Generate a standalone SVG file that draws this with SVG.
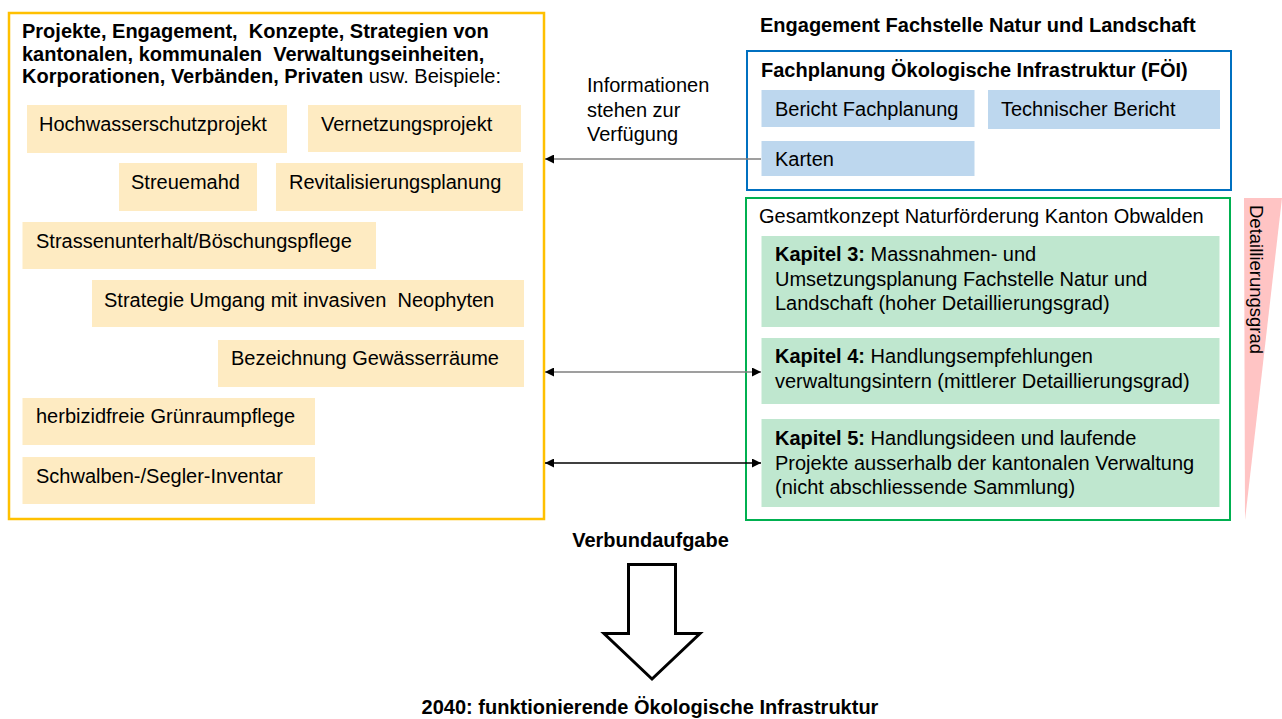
<svg xmlns="http://www.w3.org/2000/svg" width="1282" height="719" viewBox="0 0 1282 719">
<style>
text{font-family:"Liberation Sans",Arial,sans-serif;font-size:20px;fill:#000}
.b{font-weight:bold}
.or{fill:#FEEBC2}
.bl{fill:#BDD7EE}
.gr{fill:#BFE7CF}
.ln{fill:none;stroke-width:1.5}
</style>
<defs>
<marker id="ah" viewBox="0 0 10 10" refX="10" refY="5" markerWidth="9" markerHeight="9" markerUnits="userSpaceOnUse" orient="auto-start-reverse">
<path d="M0,0 L10,5 L0,10 Z" fill="#000"/>
</marker>
</defs>
<rect width="1282" height="719" fill="#fff"/>

<g id="akteure">
<rect x="9" y="13" width="535" height="506" fill="#fff" stroke="#FFC000" stroke-width="2.5"/>
<text class="b" x="22" y="38" xml:space="preserve">Projekte, Engagement,  Konzepte, Strategien von</text>
<text class="b" x="22" y="60.5" xml:space="preserve">kantonalen, kommunalen  Verwaltungseinheiten,</text>
<text x="22" y="83"><tspan class="b">Korporationen, Verbänden, Privaten</tspan> usw. Beispiele:</text>
</g>
<g id="hochwasser"><rect class="or" x="27" y="105" width="260" height="48"/><text x="39" y="131">Hochwasserschutzprojekt</text></g>
<g id="vernetzung"><rect class="or" x="308" y="105" width="213" height="47"/><text x="321" y="131">Vernetzungsprojekt</text></g>
<g id="streuemahd"><rect class="or" x="119" y="163" width="138" height="48"/><text x="131" y="189">Streuemahd</text></g>
<g id="revitalisierung"><rect class="or" x="276" y="163" width="247" height="48"/><text x="289" y="189">Revitalisierungsplanung</text></g>
<g id="strassen"><rect class="or" x="22.5" y="222" width="353.5" height="47"/><text x="36" y="248">Strassenunterhalt/Böschungspflege</text></g>
<g id="neophyten"><rect class="or" x="92" y="280" width="432" height="47"/><text x="104" y="307" xml:space="preserve">Strategie Umgang mit invasiven  Neophyten</text></g>
<g id="gewaesser"><rect class="or" x="218" y="340" width="306" height="47"/><text x="231" y="365">Bezeichnung Gewässerräume</text></g>
<g id="herbizid"><rect class="or" x="22.5" y="398" width="292.5" height="47"/><text x="36" y="423">herbizidfreie Grünraumpflege</text></g>
<g id="schwalben"><rect class="or" x="22.5" y="457" width="292.5" height="47"/><text x="36" y="483">Schwalben-/Segler-Inventar</text></g>

<g id="engagement-titel"><text class="b" x="760" y="32">Engagement Fachstelle Natur und Landschaft</text></g>

<g id="foei">
<rect x="747" y="51" width="484" height="139" fill="#fff" stroke="#0070C0" stroke-width="2"/>
<text class="b" x="761" y="77">Fachplanung Ökologische Infrastruktur (FÖI)</text>
</g>
<g id="bericht"><rect class="bl" x="761.5" y="90" width="213" height="37"/><text x="775" y="116">Bericht Fachplanung</text></g>
<g id="technisch"><rect class="bl" x="988" y="90" width="232" height="39"/><text x="1001" y="116">Technischer Bericht</text></g>
<g id="karten"><rect class="bl" x="761.5" y="141" width="213" height="35"/><text x="775" y="166">Karten</text></g>

<g id="info-label">
<text x="587" y="92">Informationen</text>
<text x="587" y="117">stehen zur</text>
<text x="587" y="141">Verfügung</text>
</g>

<g id="gesamtkonzept">
<rect x="746" y="198" width="484" height="322" fill="#fff" stroke="#00B050" stroke-width="2"/>
<text x="759" y="223">Gesamtkonzept Naturförderung Kanton Obwalden</text>
</g>
<g id="kapitel3"><rect class="gr" x="761.5" y="236" width="458" height="91"/>
<text x="775" y="261"><tspan class="b">Kapitel 3:</tspan> Massnahmen- und</text>
<text x="775" y="286">Umsetzungsplanung Fachstelle Natur und</text>
<text x="775" y="310">Landschaft (hoher Detaillierungsgrad)</text></g>
<g id="kapitel4"><rect class="gr" x="761.5" y="338" width="458" height="66"/>
<text x="775" y="363"><tspan class="b">Kapitel 4:</tspan> Handlungsempfehlungen</text>
<text x="775" y="388">verwaltungsintern (mittlerer Detaillierungsgrad)</text></g>
<g id="kapitel5"><rect class="gr" x="761.5" y="419" width="458" height="88"/>
<text x="775" y="445"><tspan class="b">Kapitel 5:</tspan> Handlungsideen und laufende</text>
<text x="775" y="470">Projekte ausserhalb der kantonalen Verwaltung</text>
<text x="775" y="494">(nicht abschliessende Sammlung)</text></g>

<g id="detaillierungsgrad">
<polygon points="1244,198 1282,198 1245,520" fill="#FFC4C4"/>
<text style="font-size:18.5px" transform="translate(1250,205) rotate(90)">Detaillierungsgrad</text>
</g>

<g id="connectors">
<line class="ln" x1="761" y1="159" x2="545" y2="159" stroke="#7F7F7F" marker-end="url(#ah)"/>
<line class="ln" x1="545" y1="372" x2="761" y2="372" stroke="#7F7F7F" marker-start="url(#ah)" marker-end="url(#ah)"/>
<line class="ln" x1="545" y1="463" x2="761" y2="463" stroke="#000" marker-start="url(#ah)" marker-end="url(#ah)"/>
</g>

<g id="verbund">
<text class="b" x="650.5" y="547" text-anchor="middle">Verbundaufgabe</text>
<polygon points="628.5,564.5 675.5,564.5 675.5,633.5 700,633.5 652,679 604,633.5 628.5,633.5" fill="#fff" stroke="#000" stroke-width="3"/>
</g>
<g id="ziel"><text class="b" x="650" y="714" text-anchor="middle">2040: funktionierende Ökologische Infrastruktur</text></g>
</svg>
